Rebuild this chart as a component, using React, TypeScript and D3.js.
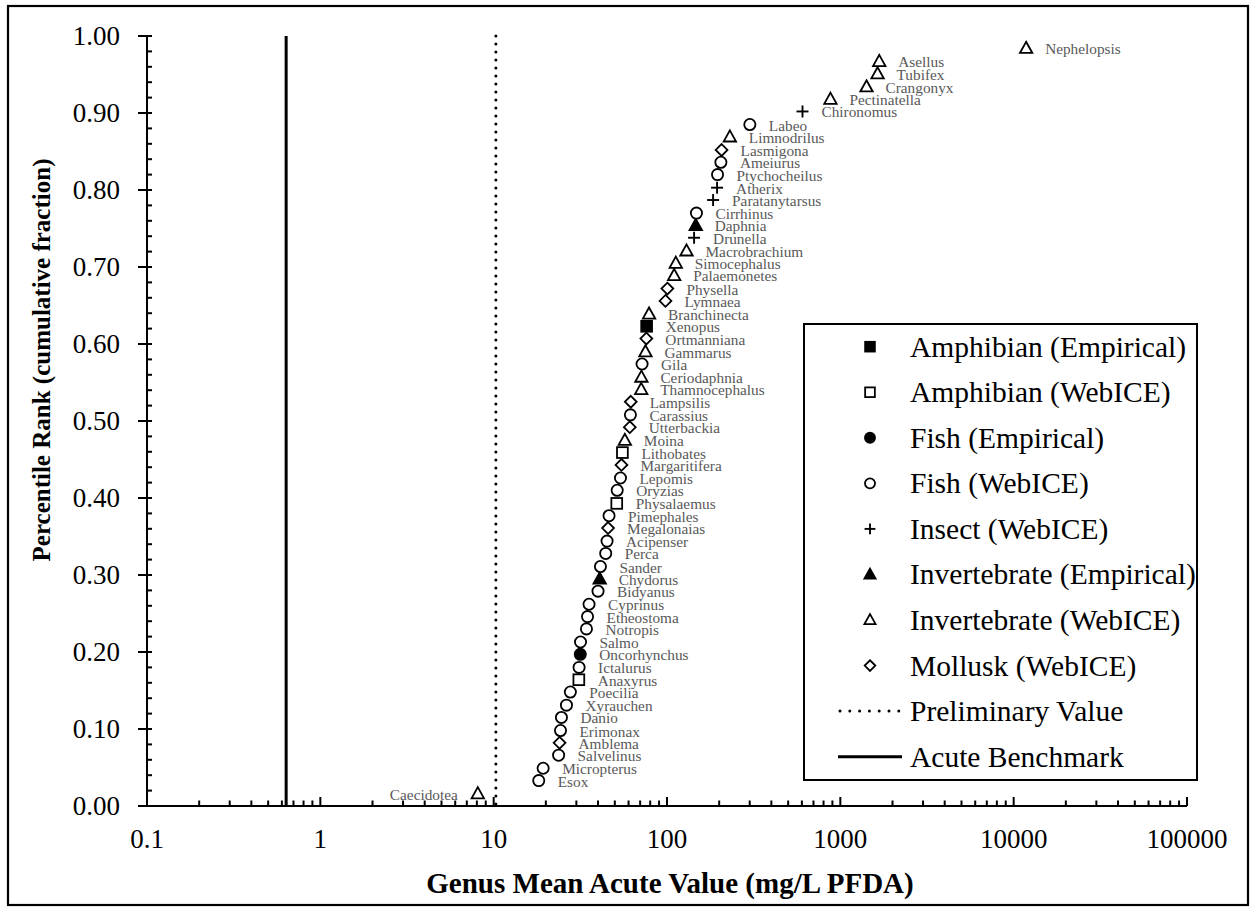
import React from "react";
import * as d3 from "d3";

// ---------- data ----------
const genera = [
  "Caecidotea", "Esox", "Micropterus", "Salvelinus", "Amblema", "Erimonax", "Danio", "Xyrauchen", "Poecilia", "Anaxyrus",
  "Ictalurus", "Oncorhynchus", "Salmo", "Notropis", "Etheostoma", "Cyprinus", "Bidyanus", "Chydorus", "Sander", "Perca",
  "Acipenser", "Megalonaias", "Pimephales", "Physalaemus", "Oryzias", "Lepomis", "Margaritifera", "Lithobates", "Moina", "Utterbackia",
  "Carassius", "Lampsilis", "Thamnocephalus", "Ceriodaphnia", "Gila", "Gammarus", "Ortmanniana", "Xenopus", "Branchinecta", "Lymnaea",
  "Physella", "Palaemonetes", "Simocephalus", "Macrobrachium", "Drunella", "Daphnia", "Cirrhinus", "Paratanytarsus", "Atherix", "Ptychocheilus",
  "Ameiurus", "Lasmigona", "Limnodrilus", "Labeo", "Chironomus", "Pectinatella", "Crangonyx", "Tubifex", "Asellus", "Nephelopsis",
];

// Genus mean acute values (mg/L PFDA)
const gmav = [
  8.1, 18.2, 19.3, 23.7, 24.0, 24.3, 24.6, 26.3, 27.7, 31.0,
  31.1, 31.6, 31.7, 34.3, 34.8, 35.5, 40.0, 40.9, 41.3, 44.3,
  45.1, 45.7, 46.3, 51.3, 51.6, 53.9, 54.6, 55.3, 57.1, 61.0,
  61.5, 61.8, 71.0, 71.2, 71.8, 75.1, 76.0, 76.3, 78.8, 98.0,
  100.5, 110.0, 112.4, 129.6, 143.3, 146.5, 147.9, 184.5, 194.5, 195.7,
  204.6, 206.5, 230.5, 300.6, 605, 877, 1416, 1640, 1677, 11800,
];

// Percentile rank (cumulative fraction)
const percentile = [
  0.016, 0.033, 0.049, 0.066, 0.082, 0.098, 0.115, 0.131, 0.148, 0.164,
  0.180, 0.197, 0.213, 0.230, 0.246, 0.262, 0.279, 0.295, 0.311, 0.328,
  0.344, 0.361, 0.377, 0.393, 0.410, 0.426, 0.443, 0.459, 0.475, 0.492,
  0.508, 0.525, 0.541, 0.557, 0.574, 0.590, 0.607, 0.623, 0.639, 0.656,
  0.672, 0.689, 0.705, 0.721, 0.738, 0.754, 0.770, 0.787, 0.803, 0.820,
  0.836, 0.852, 0.869, 0.885, 0.902, 0.918, 0.934, 0.951, 0.967, 0.984,
];

// group codes: AE amphibian empirical, AW amphibian webice, FE fish empirical, FW fish webice,
// IW insect webice, VE invertebrate empirical, VW invertebrate webice, MW mollusk webice
const groups = [
  "VW", "FW", "FW", "FW", "MW", "FW", "FW", "FW", "FW", "AW",
  "FW", "FE", "FW", "FW", "FW", "FW", "FW", "VE", "FW", "FW",
  "FW", "MW", "FW", "AW", "FW", "FW", "MW", "AW", "VW", "MW",
  "FW", "MW", "VW", "VW", "FW", "VW", "MW", "AE", "VW", "MW",
  "MW", "VW", "VW", "VW", "IW", "VE", "FW", "IW", "IW", "FW",
  "FW", "MW", "VW", "FW", "IW", "VW", "VW", "VW", "VW", "VW",
];

const legendCodes = ["AE", "AW", "FE", "FW", "IW", "VE", "VW", "MW"];
const legendLabels = [
  "Amphibian (Empirical)", "Amphibian (WebICE)", "Fish (Empirical)", "Fish (WebICE)",
  "Insect (WebICE)", "Invertebrate (Empirical)", "Invertebrate (WebICE)", "Mollusk (WebICE)",
];
const preliminaryValue = 10.3;
const acuteBenchmark = 0.635;

const xTickLabels = ["0.1", "1", "10", "100", "1000", "10000", "100000"];
const xTickValues = [0.1, 1, 10, 100, 1000, 10000, 100000];
const yTickValues = [0, 0.1, 0.2, 0.3, 0.4, 0.5, 0.6, 0.7, 0.8, 0.9, 1.0];

// ---------- layout ----------
const W = 1250;
const H = 912;
const plotL = 147;
const plotR = 1187;
const plotT = 36;
const plotB = 806;
const FONT = "'Liberation Serif', 'Times New Roman', serif";

const x = d3.scaleLog().domain([0.1, 100000]).range([plotL, plotR]);
const y = d3.scaleLinear().domain([0, 1]).range([plotB, plotT]);

function Marker({ code, cx, cy, s = 1 }: { code: string; cx: number; cy: number; s?: number }) {
  const sw = 1.8;
  const filled = code.endsWith("E");
  const fill = filled ? "#000" : "#fff";
  const kind = code[0];
  if (kind === "F") {
    return <circle cx={cx} cy={cy} r={5.6 * s} fill={fill} stroke="#000" strokeWidth={sw} />;
  }
  if (kind === "A") {
    const h = 5.4 * s;
    return <rect x={cx - h} y={cy - h} width={2 * h} height={2 * h} fill={fill} stroke="#000" strokeWidth={sw} />;
  }
  if (kind === "V") {
    const a = 6.2 * s;
    const p = d3.path();
    p.moveTo(cx, cy - a * 1.05);
    p.lineTo(cx + a, cy + a * 0.75);
    p.lineTo(cx - a, cy + a * 0.75);
    p.closePath();
    return <path d={p.toString()} fill={fill} stroke="#000" strokeWidth={sw} strokeLinejoin="miter" />;
  }
  if (kind === "M") {
    const a = 5.9 * s;
    const p = d3.path();
    p.moveTo(cx, cy - a);
    p.lineTo(cx + a, cy);
    p.lineTo(cx, cy + a);
    p.lineTo(cx - a, cy);
    p.closePath();
    return <path d={p.toString()} fill={fill} stroke="#000" strokeWidth={sw} />;
  }
  // insect plus
  const a = 6 * s;
  return (
    <g stroke="#000" strokeWidth={1.9}>
      <line x1={cx - a} x2={cx + a} y1={cy} y2={cy} />
      <line x1={cx} x2={cx} y1={cy - a} y2={cy + a} />
    </g>
  );
}

export default function App() {
  // minor ticks
  const xMinor: number[] = [];
  for (let e = -1; e < 5; e++) {
    for (let m = 2; m <= 9; m++) xMinor.push(m * Math.pow(10, e));
  }
  const yMinor: number[] = [];
  for (let i = 0; i <= 50; i++) if (i % 5 !== 0) yMinor.push(i / 50);

  const legX = 804;
  const legY = 324;
  const legW = 393;
  const legH = 456;
  const legStep = 45.55;
  const legFirst = 346.7;
  const legFont = 29.5;

  return (
    <svg width={W} height={H} style={{ position: "absolute", left: 0, top: 0, background: "#fff" }} fontFamily={FONT}>
      <rect x={0} y={0} width={W} height={H} fill="#fff" />
      <rect x={8} y={6} width={1240} height={899} fill="none" stroke="#000" strokeWidth={2.2} />

      {/* benchmark and preliminary lines */}
      <line x1={x(acuteBenchmark)} x2={x(acuteBenchmark)} y1={y(1)} y2={y(0)} stroke="#000" strokeWidth={3} />
      <line
        x1={x(preliminaryValue)} x2={x(preliminaryValue)} y1={y(1)} y2={y(0)}
        stroke="#000" strokeWidth={3} strokeDasharray="0 8" strokeLinecap="round"
      />

      {/* axes */}
      <line x1={plotL} x2={plotL} y1={plotT} y2={plotB} stroke="#000" strokeWidth={2} />
      <line x1={plotL} x2={plotR} y1={plotB} y2={plotB} stroke="#000" strokeWidth={2} />
      {yTickValues.map((v, i) => (
        <g key={"yt" + i}>
          <line x1={plotL - 9} x2={plotL + 5} y1={y(v)} y2={y(v)} stroke="#000" strokeWidth={2} />
          <text x={120} y={y(v) + 9} fontSize={27} textAnchor="end" fill="#000">
            {v.toFixed(2)}
          </text>
        </g>
      ))}
      {yMinor.map((v, i) => (
        <line key={"ym" + i} x1={plotL} x2={plotL + 5} y1={y(v)} y2={y(v)} stroke="#000" strokeWidth={2} />
      ))}
      {xTickValues.map((v, i) => (
        <g key={"xt" + i}>
          <line x1={x(v)} x2={x(v)} y1={plotB} y2={plotB - 9} stroke="#000" strokeWidth={2} />
          <text x={x(v)} y={848} fontSize={27} textAnchor="middle" fill="#000">
            {xTickLabels[i]}
          </text>
        </g>
      ))}
      {xMinor.map((v, i) => (
        <line key={"xm" + i} x1={x(v)} x2={x(v)} y1={plotB} y2={plotB - 5.5} stroke="#000" strokeWidth={2} />
      ))}

      {/* axis titles */}
      <text x={670} y={893} fontSize={29} fontWeight="bold" textAnchor="middle" fill="#000">
        Genus Mean Acute Value (mg/L PFDA)
      </text>
      <text
        transform={`translate(50, 360) rotate(-90)`}
        fontSize={25} fontWeight="bold" textAnchor="middle" fill="#000"
      >
        Percentile Rank (cumulative fraction)
      </text>

      {/* points + labels */}
      {genera.map((g, i) => {
        const cx = x(gmav[i]);
        const cy = y(percentile[i]);
        const left = i === 0;
        return (
          <g key={g}>
            <Marker code={groups[i]} cx={cx} cy={cy} />
            <text
              x={left ? cx - 20 : cx + 19}
              y={cy + 6}
              fontSize={15.3}
              fill="#595959"
              textAnchor={left ? "end" : "start"}
            >
              {g}
            </text>
          </g>
        );
      })}

      {/* legend */}
      <rect x={legX} y={legY} width={legW} height={legH} fill="#fff" stroke="#000" strokeWidth={2} />
      {legendCodes.map((c, i) => {
        const cy = legFirst + i * legStep;
        return (
          <g key={c}>
            <Marker code={c} cx={870} cy={cy} s={0.9} />
            <text x={910} y={cy + 10} fontSize={legFont} fill="#000">
              {legendLabels[i]}
            </text>
          </g>
        );
      })}
      <line
        x1={840} x2={900} y1={legFirst + 8 * legStep} y2={legFirst + 8 * legStep}
        stroke="#000" strokeWidth={3} strokeDasharray="0 9.8" strokeLinecap="round"
      />
      <text x={910} y={legFirst + 8 * legStep + 10} fontSize={legFont} fill="#000">Preliminary Value</text>
      <line
        x1={838} x2={902} y1={legFirst + 9 * legStep} y2={legFirst + 9 * legStep}
        stroke="#000" strokeWidth={3}
      />
      <text x={910} y={legFirst + 9 * legStep + 10} fontSize={legFont} fill="#000">Acute Benchmark</text>
    </svg>
  );
}
